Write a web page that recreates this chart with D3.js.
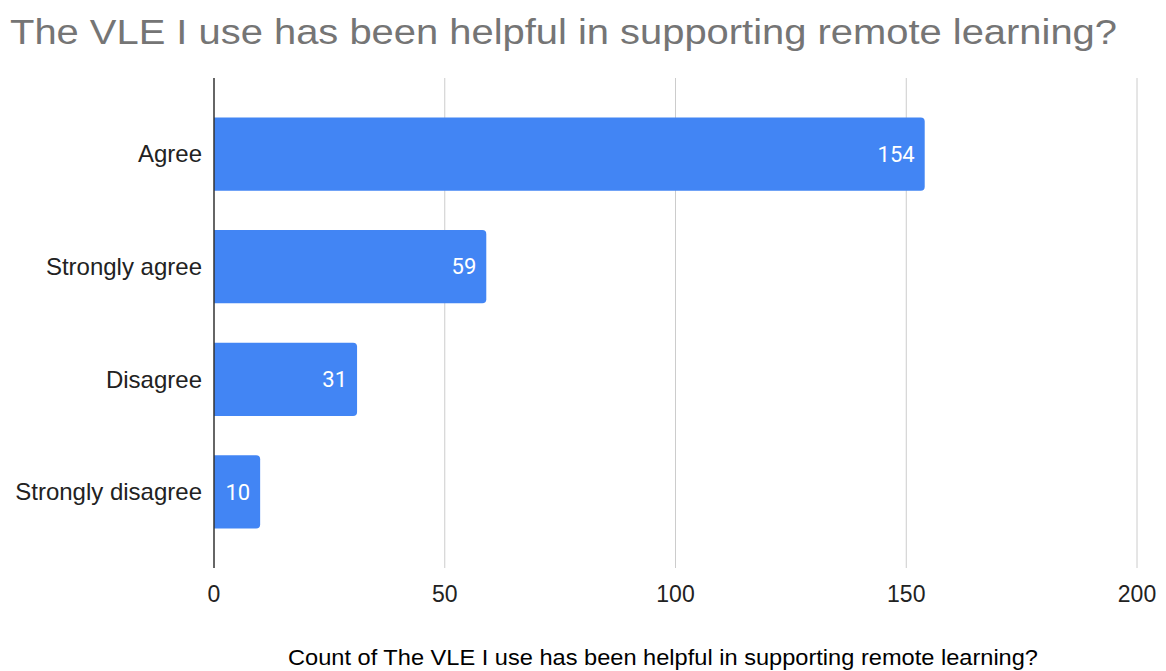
<!DOCTYPE html>
<html>
<head>
<meta charset="utf-8">
<script src="https://cdn.jsdelivr.net/npm/d3@7"></script>
<style>
    html, body { margin: 0; padding: 0; background: #fff; }
    svg { display: block; font-family: "Liberation Sans", Arial, sans-serif; }
</style>
</head>
<body>
<div id="chart"></div>
<script>
const width = 1166;
const height = 671;

const categories = ["Agree", "Strongly agree", "Disagree", "Strongly disagree"];
const counts = [154, 59, 31, 10];
const xTicks = [0, 50, 100, 150, 200];

const titleText = "The VLE I use has been helpful in supporting remote learning?";
const axisTitle = "Count of The VLE I use has been helpful in supporting remote learning?";

const data = categories.map((c, i) => ({ category: c, value: counts[i] }));

const svg = d3.select("#chart")
    .append("svg")
    .attr("width", width)
    .attr("height", height);

const x = d3.scaleLinear()
    .domain([0, 200])
    .range([214, 1137]);

const y = d3.scaleBand()
    .domain(categories)
    .range([78, 568])
    .padding(0.35);

// Title
svg.append("text")
    .attr("x", 10)
    .attr("y", 44)
    .attr("fill", "#757575")
    .attr("font-size", 35)
    .attr("textLength", 1107)
    .attr("lengthAdjust", "spacingAndGlyphs")
    .text(titleText);

// Gridlines
svg.append("g")
    .selectAll("line")
    .data(xTicks.filter(d => d !== 0))
    .join("line")
    .attr("x1", d => x(d))
    .attr("x2", d => x(d))
    .attr("y1", 78)
    .attr("y2", 568)
    .attr("stroke", "#cccccc")
    .attr("stroke-width", 1);

// Bars with rounded right corners
const r = 4;
svg.append("g")
    .selectAll("path")
    .data(data)
    .join("path")
    .attr("fill", "#4285f4")
    .attr("d", d => {
        const x0 = x(0), x1 = x(d.value);
        const y0 = y(d.category), h = y.bandwidth();
        return `M${x0},${y0} H${x1 - r} Q${x1},${y0} ${x1},${y0 + r} V${y0 + h - r} Q${x1},${y0 + h} ${x1 - r},${y0 + h} H${x0} Z`;
    });

// Value labels
svg.append("g")
    .selectAll("text")
    .data(data)
    .join("text")
    .attr("x", d => x(d.value) - 10)
    .attr("y", d => y(d.category) + y.bandwidth() / 2)
    .attr("dy", "0.35em")
    .attr("text-anchor", "end")
    .attr("fill", "#ffffff")
    .attr("font-family", "Roboto, sans-serif")
    .attr("font-size", 22)
    .text(d => d.value);

// Zero axis line
svg.append("line")
    .attr("x1", x(0))
    .attr("x2", x(0))
    .attr("y1", 78)
    .attr("y2", 568)
    .attr("stroke", "#333333")
    .attr("stroke-width", 1.5);

// Category labels
svg.append("g")
    .selectAll("text")
    .data(categories)
    .join("text")
    .attr("x", 202)
    .attr("y", d => y(d) + y.bandwidth() / 2)
    .attr("dy", "0.35em")
    .attr("text-anchor", "end")
    .attr("fill", "#222222")
    .attr("font-size", 24)
    .text(d => d);

// X tick labels
svg.append("g")
    .selectAll("text")
    .data(xTicks)
    .join("text")
    .attr("x", d => x(d))
    .attr("y", 594)
    .attr("dy", "0.35em")
    .attr("text-anchor", "middle")
    .attr("fill", "#222222")
    .attr("font-size", 23)
    .text(d => d);

// Axis title
svg.append("text")
    .attr("x", 288)
    .attr("y", 665)
    .attr("fill", "#000000")
    .attr("font-size", 22)
    .attr("textLength", 750)
    .attr("lengthAdjust", "spacingAndGlyphs")
    .text(axisTitle);
</script>
</body>
</html>
